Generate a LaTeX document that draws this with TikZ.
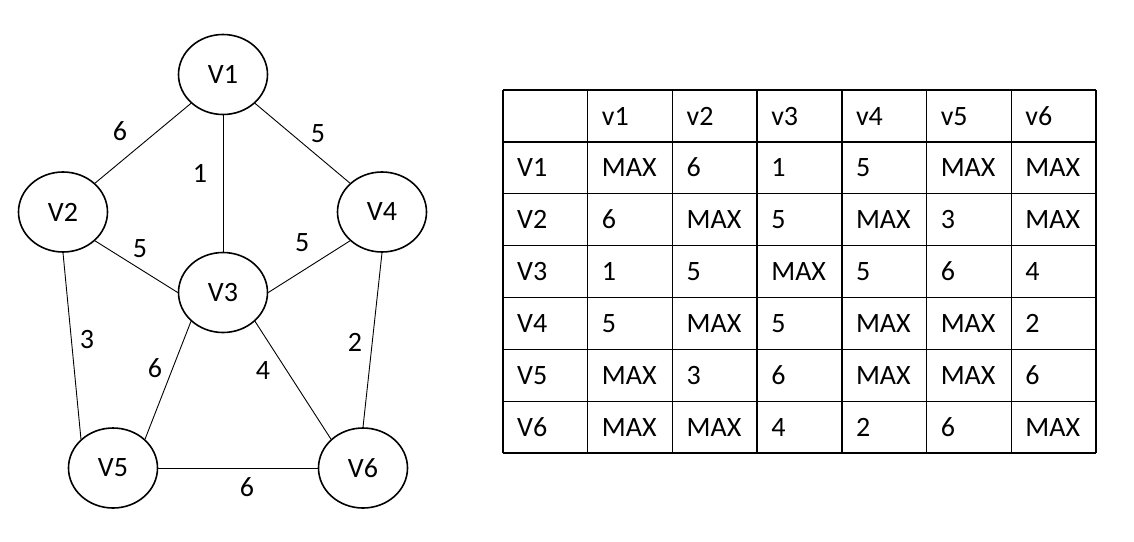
\documentclass[tikz,border=0pt]{standalone}
\usepackage{fontspec}
\setmainfont{Carlito}
\usetikzlibrary{shapes.geometric}

\begin{document}
\begin{tikzpicture}[x=1pt, y=-1pt,
        vertex/.style={ellipse, draw, line width=1.6pt, minimum width=89pt, minimum height=80pt, inner sep=0pt, font=\fontsize{28}{32}\selectfont},
        weight/.style={inner sep=0pt, font=\fontsize{28}{32}\selectfont},
        entry/.style={anchor=base west, inner sep=0pt, font=\fontsize{28}{32}\selectfont}]
        \useasboundingbox (0,0) rectangle (1134,541);

        \node[vertex] (v1) at (223,74.5) {V1};
        \node[vertex] (v2) at (63,212)   {V2};
        \node[vertex] (v3) at (223,292.5) {V3};
        \node[vertex] (v4) at (382,212)  {V4};
        \node[vertex] (v5) at (113,468)  {V5};
        \node[vertex] (v6) at (363,468)  {V6};

        \path[line width=0.9pt]
        (v1.south west) edge node[weight, shift={(-23,-12)}] {6} (v2.north east)
        (v1.south)      edge node[weight, shift={(-23,-10)}] {1} (v3.north)
        (v1.south east) edge node[weight, shift={(15.5,-10)}] {5} (v4.north west)
        (v2.south east) edge node[weight, shift={(3.5,-18)}] {5} (v3.west)
        (v3.east)       edge node[weight, shift={(-7,-24)}] {5} (v4.south west)
        (v2.south)      edge node[weight, shift={(15,-6)}] {3} (v5.north west)
        (v3.south west) edge node[weight, shift={(-13,-12)}] {6} (v5.north east)
        (v3.south east) edge node[weight, shift={(-30,-10)}] {4} (v6.north west)
        (v4.south)      edge node[weight, shift={(-17.5,2)}] {2} (v6.north)
        (v5.east)       edge node[weight, shift={(9,19)}] {6} (v6.west);

        % adjacency table
        \foreach \c in {0,...,7}
            \draw[line width=1.3pt] (503+84.71*\c,90) -- (503+84.71*\c,453);
        \foreach \r in {0,...,7}
            \draw[line width=1.3pt] (503,90+51.86*\r) -- (1096,90+51.86*\r);

        \foreach \r/\row in {0/{ ,v1,v2,v3,v4,v5,v6},
                             1/{V1,MAX,6,1,5,MAX,MAX},
                             2/{V2,6,MAX,5,MAX,3,MAX},
                             3/{V3,1,5,MAX,5,6,4},
                             4/{V4,5,MAX,5,MAX,MAX,2},
                             5/{V5,MAX,3,6,MAX,MAX,6},
                             6/{V6,MAX,MAX,4,2,6,MAX}}
            \foreach \txt [count=\c from 0] in \row
                \node[entry] (t-\r-\c) at (517+84.71*\c,116+51.86*\r+9) {\txt};
\end{tikzpicture}
\end{document}
